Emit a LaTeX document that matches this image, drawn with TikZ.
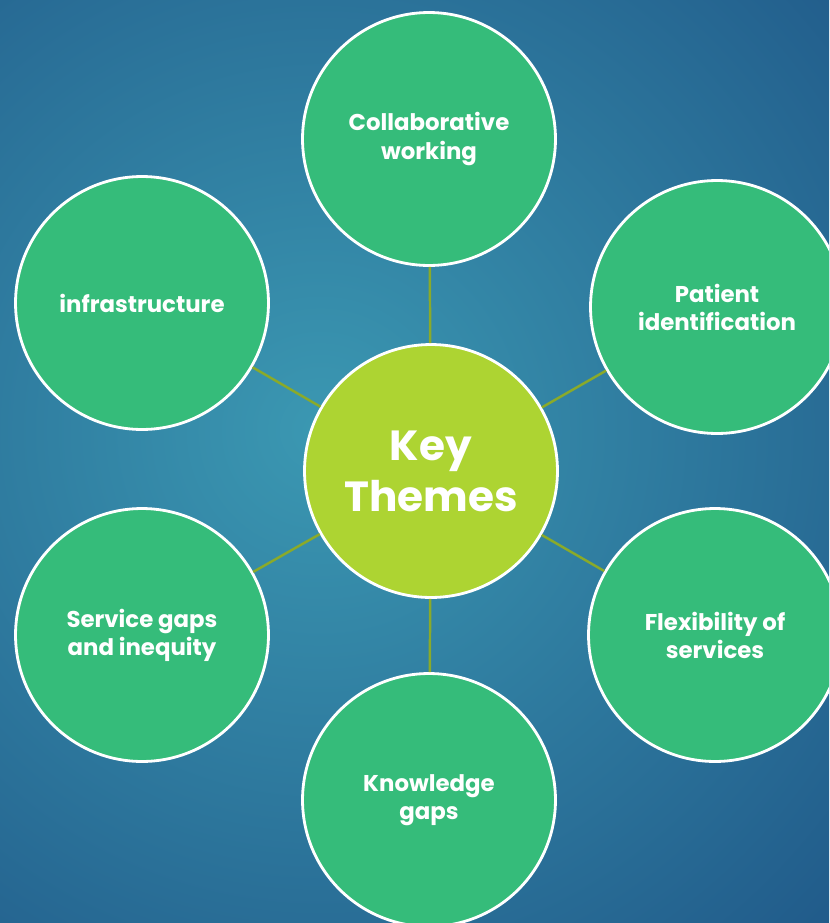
\documentclass[tikz,border=0pt]{standalone}
\usepackage{fontspec}
\setmainfont{Poppins}
\usepackage{tikz}

\definecolor{bgLight}{HTML}{3B98B2}
\definecolor{bgDark}{HTML}{16427A}
\definecolor{themeGreen}{HTML}{35BC7A}
\definecolor{keyLime}{HTML}{ADD432}
\definecolor{linkOlive}{HTML}{8AAA2A}

\tikzset{
    theme/.style={circle, draw=white, line width=1.6pt, fill=themeGreen,
        minimum size=5.06cm, align=center, text=white,
        font=\bfseries\fontsize{13}{16}\selectfont},
    keytheme/.style={theme, fill=keyLime, font=\bfseries\fontsize{24}{29}\selectfont},
    link/.style={draw=linkOlive, line width=1.4pt}
}

\begin{document}
\begin{tikzpicture}[x=0.02cm, y=-0.02cm]
                    \useasboundingbox (0,0) rectangle (829,923);
                    \clip (0,0) rectangle (829,923);
                    \shade [inner color=bgLight, outer color=bgDark] (-680,-570) rectangle (1320,1430);
                    \node [keytheme] (key) at (431,471) {Key\\Themes};
                    \node [theme] (collab) at (429,139) {Collaborative\\working};
                    \node [theme] (patient) at (717,307) {Patient\\identification};
                    \node [theme] (flex) at (715,635) {Flexibility of\\services};
                    \node [theme] (knowledge) at (429,800) {Knowledge\\gaps};
                    \node [theme] (gaps) at (142,635) {Service gaps\\and inequity};
                    \node [theme] (infra) at (142,303) {infrastructure};
                    \draw [link] (key) -- (collab);
                    \draw [link] (key) -- (patient);
                    \draw [link] (key) -- (flex);
                    \draw [link] (key) -- (knowledge);
                    \draw [link] (key) -- (gaps);
                    \draw [link] (key) -- (infra);
                \end{tikzpicture}
\end{document}
